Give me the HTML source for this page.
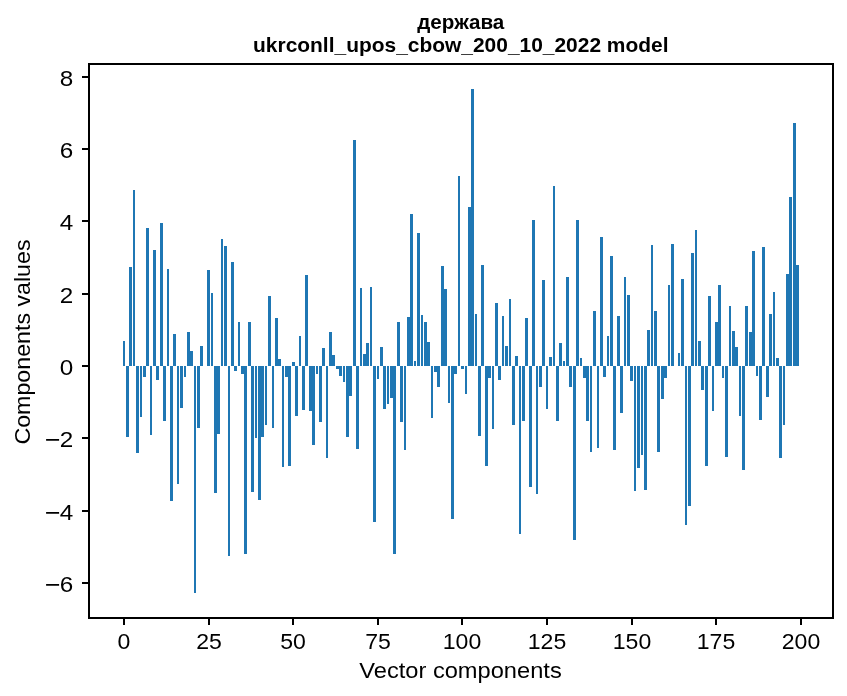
<!DOCTYPE html>
<html><head><meta charset="utf-8"><title>chart</title>
<style>html,body{margin:0;padding:0;background:#fff}svg{display:block;will-change:transform}text{font-family:"Liberation Sans",sans-serif;fill:#000}</style></head>
<body>
<svg width="847" height="696" viewBox="0 0 847 696">
<rect x="0" y="0" width="847" height="696" fill="#ffffff"/>
<g fill="#1f77b4" shape-rendering="crispEdges"><rect x="123" y="341" width="2" height="25"/><rect x="126" y="366" width="3" height="71"/><rect x="129" y="267" width="3" height="99"/><rect x="133" y="190" width="2" height="176"/><rect x="136" y="366" width="3" height="87"/><rect x="140" y="366" width="2" height="51"/><rect x="143" y="366" width="3" height="11"/><rect x="146" y="228" width="3" height="138"/><rect x="150" y="366" width="2" height="69"/><rect x="153" y="250" width="3" height="116"/><rect x="156" y="366" width="3" height="14"/><rect x="160" y="223" width="3" height="143"/><rect x="163" y="366" width="3" height="55"/><rect x="167" y="269" width="2" height="97"/><rect x="170" y="366" width="3" height="135"/><rect x="173" y="334" width="3" height="32"/><rect x="177" y="366" width="2" height="118"/><rect x="180" y="366" width="3" height="42"/><rect x="184" y="366" width="2" height="11"/><rect x="187" y="332" width="3" height="34"/><rect x="190" y="351" width="3" height="15"/><rect x="194" y="366" width="2" height="227"/><rect x="197" y="366" width="3" height="62"/><rect x="200" y="346" width="3" height="20"/><rect x="207" y="270" width="3" height="96"/><rect x="211" y="293" width="2" height="73"/><rect x="214" y="366" width="3" height="127"/><rect x="217" y="366" width="3" height="68"/><rect x="221" y="239" width="2" height="127"/><rect x="224" y="246" width="3" height="120"/><rect x="228" y="366" width="2" height="190"/><rect x="231" y="262" width="3" height="104"/><rect x="234" y="366" width="3" height="5"/><rect x="238" y="322" width="2" height="44"/><rect x="241" y="366" width="3" height="8"/><rect x="244" y="366" width="3" height="188"/><rect x="248" y="322" width="3" height="44"/><rect x="251" y="366" width="3" height="126"/><rect x="255" y="366" width="2" height="72"/><rect x="258" y="366" width="3" height="134"/><rect x="261" y="366" width="3" height="71"/><rect x="265" y="366" width="2" height="59"/><rect x="268" y="296" width="3" height="70"/><rect x="272" y="366" width="2" height="62"/><rect x="275" y="318" width="3" height="48"/><rect x="278" y="359" width="3" height="7"/><rect x="282" y="366" width="2" height="101"/><rect x="285" y="366" width="3" height="11"/><rect x="288" y="366" width="3" height="100"/><rect x="292" y="362" width="3" height="4"/><rect x="295" y="366" width="3" height="50"/><rect x="299" y="336" width="2" height="30"/><rect x="302" y="366" width="3" height="44"/><rect x="305" y="275" width="3" height="91"/><rect x="309" y="366" width="3" height="45"/><rect x="312" y="366" width="3" height="79"/><rect x="316" y="366" width="2" height="8"/><rect x="319" y="366" width="3" height="56"/><rect x="322" y="348" width="3" height="18"/><rect x="326" y="366" width="2" height="92"/><rect x="329" y="332" width="3" height="34"/><rect x="332" y="355" width="3" height="11"/><rect x="336" y="366" width="3" height="3"/><rect x="339" y="366" width="3" height="10"/><rect x="343" y="366" width="2" height="16"/><rect x="346" y="366" width="3" height="71"/><rect x="349" y="366" width="3" height="30"/><rect x="353" y="140" width="3" height="226"/><rect x="356" y="366" width="3" height="83"/><rect x="360" y="288" width="2" height="78"/><rect x="363" y="354" width="3" height="12"/><rect x="366" y="343" width="3" height="23"/><rect x="370" y="287" width="2" height="79"/><rect x="373" y="366" width="3" height="156"/><rect x="377" y="366" width="2" height="13"/><rect x="380" y="347" width="3" height="19"/><rect x="383" y="366" width="3" height="43"/><rect x="387" y="366" width="2" height="38"/><rect x="390" y="366" width="3" height="32"/><rect x="393" y="366" width="3" height="188"/><rect x="397" y="322" width="3" height="44"/><rect x="400" y="366" width="3" height="56"/><rect x="404" y="366" width="2" height="84"/><rect x="407" y="317" width="3" height="49"/><rect x="410" y="214" width="3" height="152"/><rect x="414" y="361" width="2" height="5"/><rect x="417" y="233" width="3" height="133"/><rect x="421" y="315" width="2" height="51"/><rect x="424" y="322" width="3" height="44"/><rect x="427" y="342" width="3" height="24"/><rect x="431" y="366" width="2" height="52"/><rect x="434" y="366" width="3" height="6"/><rect x="437" y="366" width="3" height="21"/><rect x="441" y="266" width="3" height="100"/><rect x="444" y="289" width="3" height="77"/><rect x="448" y="366" width="2" height="37"/><rect x="451" y="366" width="3" height="153"/><rect x="454" y="366" width="3" height="8"/><rect x="458" y="176" width="2" height="190"/><rect x="461" y="366" width="3" height="3"/><rect x="465" y="366" width="2" height="28"/><rect x="468" y="207" width="3" height="159"/><rect x="471" y="89" width="3" height="277"/><rect x="475" y="314" width="2" height="52"/><rect x="478" y="366" width="3" height="70"/><rect x="481" y="265" width="3" height="101"/><rect x="485" y="366" width="3" height="100"/><rect x="488" y="366" width="3" height="12"/><rect x="492" y="366" width="2" height="63"/><rect x="495" y="303" width="3" height="63"/><rect x="498" y="366" width="3" height="14"/><rect x="502" y="316" width="2" height="50"/><rect x="505" y="346" width="3" height="20"/><rect x="509" y="299" width="2" height="67"/><rect x="512" y="366" width="3" height="59"/><rect x="515" y="356" width="3" height="10"/><rect x="519" y="366" width="2" height="168"/><rect x="522" y="366" width="3" height="55"/><rect x="525" y="318" width="3" height="48"/><rect x="529" y="366" width="3" height="121"/><rect x="532" y="220" width="3" height="146"/><rect x="536" y="366" width="2" height="128"/><rect x="539" y="366" width="3" height="21"/><rect x="542" y="280" width="3" height="86"/><rect x="546" y="366" width="2" height="43"/><rect x="549" y="357" width="3" height="9"/><rect x="553" y="186" width="2" height="180"/><rect x="556" y="366" width="3" height="55"/><rect x="559" y="343" width="3" height="23"/><rect x="563" y="361" width="2" height="5"/><rect x="566" y="277" width="3" height="89"/><rect x="569" y="366" width="3" height="21"/><rect x="573" y="366" width="3" height="174"/><rect x="576" y="220" width="3" height="146"/><rect x="580" y="358" width="2" height="8"/><rect x="583" y="366" width="3" height="12"/><rect x="586" y="366" width="3" height="55"/><rect x="590" y="366" width="2" height="86"/><rect x="593" y="311" width="3" height="55"/><rect x="597" y="366" width="2" height="82"/><rect x="600" y="237" width="3" height="129"/><rect x="603" y="366" width="3" height="11"/><rect x="607" y="336" width="2" height="30"/><rect x="610" y="256" width="3" height="110"/><rect x="613" y="366" width="3" height="84"/><rect x="617" y="316" width="3" height="50"/><rect x="620" y="366" width="3" height="47"/><rect x="624" y="277" width="2" height="89"/><rect x="627" y="295" width="3" height="71"/><rect x="630" y="366" width="3" height="15"/><rect x="634" y="366" width="2" height="125"/><rect x="637" y="366" width="3" height="102"/><rect x="641" y="366" width="2" height="89"/><rect x="644" y="366" width="3" height="124"/><rect x="647" y="330" width="3" height="36"/><rect x="651" y="245" width="2" height="121"/><rect x="654" y="311" width="3" height="55"/><rect x="657" y="366" width="3" height="86"/><rect x="661" y="366" width="3" height="33"/><rect x="664" y="366" width="3" height="12"/><rect x="668" y="285" width="2" height="81"/><rect x="671" y="244" width="3" height="122"/><rect x="678" y="353" width="2" height="13"/><rect x="681" y="279" width="3" height="87"/><rect x="685" y="366" width="2" height="159"/><rect x="688" y="366" width="3" height="140"/><rect x="691" y="253" width="3" height="113"/><rect x="695" y="230" width="2" height="136"/><rect x="698" y="341" width="3" height="25"/><rect x="701" y="366" width="3" height="24"/><rect x="705" y="366" width="3" height="100"/><rect x="708" y="296" width="3" height="70"/><rect x="712" y="366" width="2" height="45"/><rect x="715" y="322" width="3" height="44"/><rect x="718" y="285" width="3" height="81"/><rect x="722" y="366" width="2" height="12"/><rect x="725" y="366" width="3" height="91"/><rect x="729" y="306" width="2" height="60"/><rect x="732" y="331" width="3" height="35"/><rect x="735" y="347" width="3" height="19"/><rect x="739" y="366" width="2" height="50"/><rect x="742" y="366" width="3" height="104"/><rect x="745" y="306" width="3" height="60"/><rect x="749" y="332" width="3" height="34"/><rect x="752" y="251" width="3" height="115"/><rect x="756" y="366" width="2" height="10"/><rect x="759" y="366" width="3" height="54"/><rect x="762" y="247" width="3" height="119"/><rect x="766" y="366" width="3" height="31"/><rect x="769" y="314" width="3" height="52"/><rect x="773" y="292" width="2" height="74"/><rect x="776" y="358" width="3" height="8"/><rect x="779" y="366" width="3" height="92"/><rect x="783" y="366" width="2" height="59"/><rect x="786" y="274" width="3" height="92"/><rect x="789" y="197" width="3" height="169"/><rect x="793" y="123" width="3" height="243"/><rect x="796" y="265" width="3" height="101"/></g>
<g fill="#000" shape-rendering="crispEdges">
<rect x="88" y="63" width="2" height="556"/>
<rect x="832" y="63" width="2" height="556"/>
<rect x="88" y="63" width="746" height="2"/>
<rect x="88" y="617" width="746" height="2"/>
<rect x="123" y="619" width="2" height="6"/>
<rect x="208" y="619" width="2" height="6"/>
<rect x="292" y="619" width="2" height="6"/>
<rect x="377" y="619" width="2" height="6"/>
<rect x="461" y="619" width="2" height="6"/>
<rect x="546" y="619" width="2" height="6"/>
<rect x="631" y="619" width="2" height="6"/>
<rect x="715" y="619" width="2" height="6"/>
<rect x="800" y="619" width="2" height="6"/>
<rect x="82" y="76" width="6" height="2"/>
<rect x="82" y="148" width="6" height="2"/>
<rect x="82" y="220" width="6" height="2"/>
<rect x="82" y="293" width="6" height="2"/>
<rect x="82" y="365" width="6" height="2"/>
<rect x="82" y="437" width="6" height="2"/>
<rect x="82" y="510" width="6" height="2"/>
<rect x="82" y="582" width="6" height="2"/>
</g>
<text transform="translate(124,649.2) scale(1.007,1)" font-size="22.9" text-anchor="middle">0</text>
<text transform="translate(209,649.2) scale(1.007,1)" font-size="22.9" text-anchor="middle">25</text>
<text transform="translate(293,649.2) scale(1.007,1)" font-size="22.9" text-anchor="middle">50</text>
<text transform="translate(378,649.2) scale(1.007,1)" font-size="22.9" text-anchor="middle">75</text>
<text transform="translate(462,649.2) scale(1.007,1)" font-size="22.9" text-anchor="middle">100</text>
<text transform="translate(547,649.2) scale(1.007,1)" font-size="22.9" text-anchor="middle">125</text>
<text transform="translate(632,649.2) scale(1.007,1)" font-size="22.9" text-anchor="middle">150</text>
<text transform="translate(716,649.2) scale(1.007,1)" font-size="22.9" text-anchor="middle">175</text>
<text transform="translate(801,649.2) scale(1.007,1)" font-size="22.9" text-anchor="middle">200</text>
<text transform="translate(73.3,85.6) scale(1.06,1)" font-size="22.9" text-anchor="end">8</text>
<text transform="translate(73.3,157.6) scale(1.06,1)" font-size="22.9" text-anchor="end">6</text>
<text transform="translate(73.3,229.6) scale(1.06,1)" font-size="22.9" text-anchor="end">4</text>
<text transform="translate(73.3,302.6) scale(1.06,1)" font-size="22.9" text-anchor="end">2</text>
<text transform="translate(73.3,374.6) scale(1.06,1)" font-size="22.9" text-anchor="end">0</text>
<text transform="translate(73.3,446.6) scale(1.06,1)" font-size="22.9" text-anchor="end">2</text>
<rect x="46.1" y="439.0" width="13" height="1.75" fill="#000"/>
<text transform="translate(73.3,519.6) scale(1.06,1)" font-size="22.9" text-anchor="end">4</text>
<rect x="46.1" y="512.0" width="13" height="1.75" fill="#000"/>
<text transform="translate(73.3,591.6) scale(1.06,1)" font-size="22.9" text-anchor="end">6</text>
<rect x="46.1" y="584.0" width="13" height="1.75" fill="#000"/>
<text transform="translate(460.5,678) scale(1.10,1)" font-size="21.5" text-anchor="middle">Vector components</text>
<text transform="translate(29.6,342) rotate(-90) scale(1.08,1)" font-size="21.5" text-anchor="middle">Components values</text>
<text x="460.8" y="29.4" font-size="20.6" font-weight="bold" text-anchor="middle">держава</text>
<text x="460.8" y="51.9" font-size="20.95" font-weight="bold" text-anchor="middle">ukrconll_upos_cbow_200_10_2022 model</text>
</svg></body></html>
